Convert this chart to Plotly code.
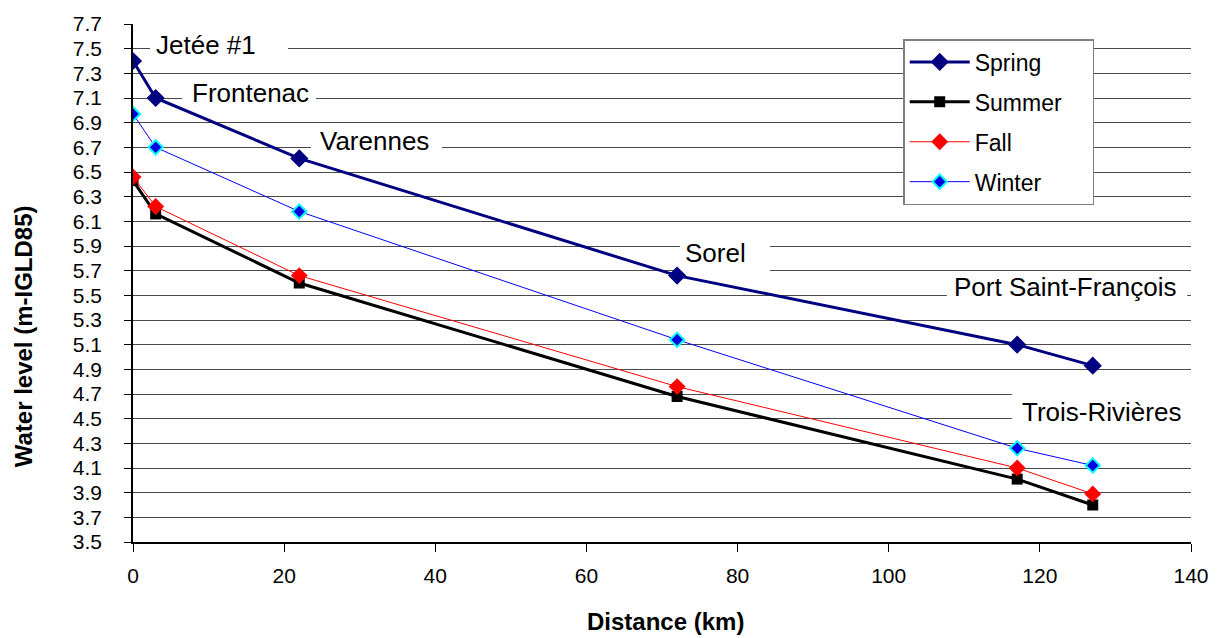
import plotly.graph_objects as go

# Distance downstream (km) of each gauging station
distance_km = [0, 3, 22, 72, 117, 127]

# Mean water level (m, IGLD85) by season
spring = [7.40, 7.10, 6.61, 5.66, 5.10, 4.93]
summer = [6.43, 6.16, 5.60, 4.68, 4.01, 3.80]
fall = [6.46, 6.22, 5.66, 4.76, 4.10, 3.89]
winter = [6.97, 6.70, 6.18, 5.14, 4.26, 4.12]

# Station names shown in the plot area
station_names = ["Jetée #1", "Frontenac", "Varennes", "Sorel",
                 "Port Saint-François", "Trois-Rivières"]

x_ticks = [0, 20, 40, 60, 80, 100, 120, 140]
y_ticks = [3.5, 3.7, 3.9, 4.1, 4.3, 4.5, 4.7, 4.9, 5.1, 5.3, 5.5,
           5.7, 5.9, 6.1, 6.3, 6.5, 6.7, 6.9, 7.1, 7.3, 7.5, 7.7]

FONT = "Liberation Sans, Arial, sans-serif"

# Label placement (text centre) and white backing box, in axis units
label_pos = [(9.66, 7.53), (15.6, 7.144), (31.9, 6.754), (77.1, 5.84),
             (123.4, 5.567), (128.2, 4.554)]
label_box = [(2.25, 20.51, 7.36, 7.66), (6.48, 24.22, 6.98, 7.28),
             (23.55, 40.89, 6.57, 6.88), (72.38, 84.29, 5.672, 6.0),
             (107.7, 139.5, 5.37, 5.67), (116.3, 140.0, 4.40, 4.755)]

series = [
    ("Spring", spring, dict(color="#000080", width=3),
     dict(symbol="diamond", size=14, color="#000080")),
    ("Summer", summer, dict(color="#000000", width=3),
     dict(symbol="square", size=11, color="#000000")),
    ("Fall", fall, dict(color="#FF0000", width=1),
     dict(symbol="diamond", size=13, color="#FF0000")),
    ("Winter", winter, dict(color="#0000FF", width=1),
     dict(symbol="diamond", size=11, color="#0000E0",
          line=dict(color="#00FFFF", width=2))),
]

# trailing non-breaking spaces widen the legend box on the right
LEGEND_PAD = "\u00a0" * 4

fig = go.Figure()
for name, vals, line, marker in series:
    fig.add_trace(go.Scatter(
        x=distance_km, y=vals, name=name + LEGEND_PAD, mode="lines+markers",
        line=line, marker=marker, legendgroup=name,
    ))

shapes = []
annotations = []
for text, (tx, ty), (x0, x1, y0, y1) in zip(station_names, label_pos, label_box):
    shapes.append(dict(type="rect", xref="x", yref="y", x0=x0, x1=x1,
                       y0=y0, y1=y1, fillcolor="white", line_width=0,
                       layer="between"))
    annotations.append(dict(x=tx, y=ty, xref="x", yref="y", text=text,
                            showarrow=False, xanchor="center", yanchor="middle",
                            font=dict(family=FONT, size=26, color="black")))

annotations.append(dict(x=-0.104, y=0.397, xref="paper", yref="paper",
                        text="<b>Water level (m-IGLD85)</b>", textangle=-90,
                        showarrow=False, xanchor="center", yanchor="middle",
                        font=dict(family=FONT, size=24, color="black")))
annotations.append(dict(x=0.503, y=-0.153, xref="paper", yref="paper",
                        text="<b>Distance (km)</b>",
                        showarrow=False, xanchor="center", yanchor="middle",
                        font=dict(family=FONT, size=24, color="black")))

fig.update_layout(
    width=1222, height=638,
    margin=dict(l=133, r=31, t=20, b=96),
    paper_bgcolor="white", plot_bgcolor="white",
    font=dict(family=FONT, size=21, color="black"),
    shapes=shapes, annotations=annotations,
    legend=dict(x=0.728, y=0.971, xanchor="left", yanchor="top",
                bgcolor="white", bordercolor="#808080", borderwidth=1.5,
                font=dict(family=FONT, size=23, color="black"),
                tracegroupgap=7, itemwidth=60, traceorder="grouped"),
    xaxis=dict(range=[0, 140], tickvals=x_ticks, showgrid=False,
               showline=True, linecolor="black", linewidth=1.5,
               ticks="outside", ticklen=8, tickcolor="black",
               ticklabelstandoff=6, zeroline=False,
               tickfont=dict(family=FONT, size=21)),
    yaxis=dict(range=[3.5, 7.7], tickvals=y_ticks,
               ticktext=[f"{v:.1f}" for v in y_ticks],
               showgrid=True, gridcolor="#4a4a4a", gridwidth=1,
               showline=True, linecolor="black", linewidth=1.5,
               ticks="outside", ticklen=7, tickcolor="black",
               ticklabelstandoff=18, zeroline=False,
               tickfont=dict(family=FONT, size=21)),
)

fig.write_html("out.html")
